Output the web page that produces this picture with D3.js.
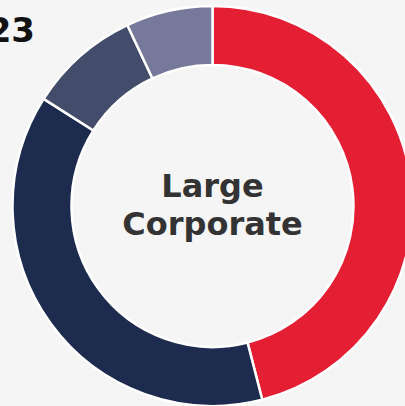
<!DOCTYPE html>
<html>
<head>
<meta charset="utf-8">
<script src="https://cdn.jsdelivr.net/npm/d3@7"></script>
<style>
  html, body { margin: 0; padding: 0; background: #f5f5f5; overflow: hidden; }
  svg { display: block; }
</style>
</head>
<body>
<svg id="chart" width="405" height="406"></svg>
<script>
// Segment shares (percent), clockwise from 12 o'clock
const segments = ["Segment A", "Segment B", "Segment C", "Segment D"];
const shares = [46, 38, 9, 7];
const colors = ["#e41f33", "#1d2b4f", "#444c6c", "#77799a"];
const yearLabel = "2023";
const centerLines = ["Large", "Corporate"];

const svg = d3.select("#chart");
const cx = 212.5, cy = 206, outerR = 200, innerR = 141;

const pie = d3.pie().sort(null).value(d => d.value);
const arc = d3.arc().innerRadius(innerR).outerRadius(outerR);

const data = segments.map((s, i) => ({ name: s, value: shares[i], color: colors[i] }));

const g = svg.append("g").attr("transform", `translate(${cx},${cy})`);
g.selectAll("path")
  .data(pie(data))
  .join("path")
  .attr("d", arc)
  .attr("fill", d => d.data.color)
  .attr("stroke", "#ffffff")
  .attr("stroke-width", 2.5);

// Year heading (partly outside the visible area on the left)
svg.append("text")
  .attr("x", 35)
  .attr("y", 42)
  .attr("text-anchor", "end")
  .attr("font-family", "DejaVu Sans, sans-serif")
  .attr("font-weight", "bold")
  .attr("font-size", 34)
  .attr("fill", "#111111")
  .text(yearLabel);

// Center label
const label = g.append("text")
  .attr("text-anchor", "middle")
  .attr("font-family", "DejaVu Sans, sans-serif")
  .attr("font-weight", "bold")
  .attr("font-size", 32)
  .attr("fill", "#333333");
label.append("tspan").attr("x", 0).attr("y", -9).text(centerLines[0]);
label.append("tspan").attr("x", 0).attr("y", 29).text(centerLines[1]);
</script>
</body>
</html>
